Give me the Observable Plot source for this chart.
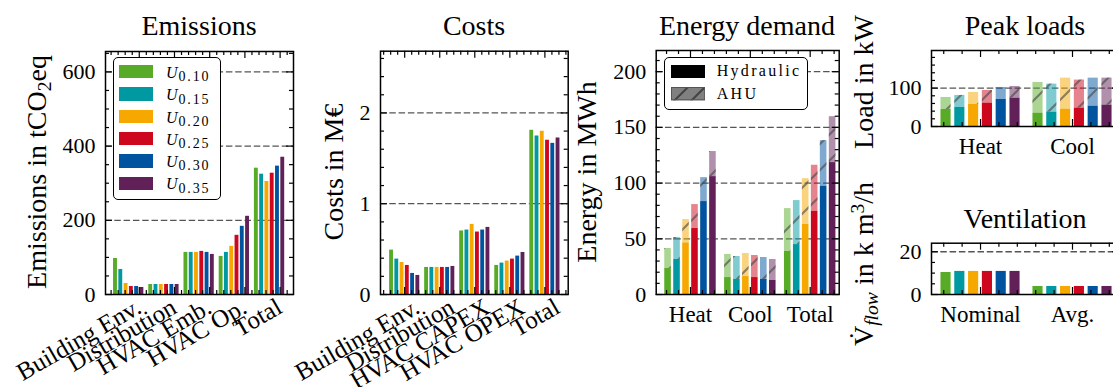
<!DOCTYPE html>
<html><head><meta charset="utf-8">
<script src="https://cdn.jsdelivr.net/npm/d3@7"></script>
<script src="https://cdn.jsdelivr.net/npm/@observablehq/plot@0.6"></script>
<style>
body{margin:0;background:#fff;}
#wrap{position:relative;width:1113px;height:387px;overflow:hidden;font-family:"Liberation Serif",serif;color:#000;background:#fff;}
.title{position:absolute;font-size:28px;line-height:28px;white-space:nowrap;transform:translateX(-50%);}
.ylab{position:absolute;font-size:28px;line-height:28px;white-space:nowrap;transform:translate(-50%,-50%) rotate(-90deg);}
.ylab sub{font-size:0.7em;vertical-align:-0.28em;line-height:0;}
.ylab sup{font-size:0.7em;vertical-align:0.45em;line-height:0;}
.lbox{position:absolute;box-sizing:border-box;border:1.5px solid #000;border-radius:5px;background:#fff;}
.ltext{position:absolute;white-space:nowrap;line-height:16px;}
</style></head><body>
<svg width="0" height="0" style="position:absolute"><defs>
<pattern id="hatch" patternUnits="userSpaceOnUse" width="26" height="26">
<path d="M0,26 L26,0 M-6,6 L6,-6 M20,32 L32,20" stroke="#444" stroke-opacity="0.6" stroke-width="2.2" fill="none"/>
</pattern>
<pattern id="hatchS" patternUnits="userSpaceOnUse" width="17" height="17">
<path d="M0,17 L17,0 M-4,4 L4,-4 M13,21 L21,13" stroke="#333" stroke-opacity="0.8" stroke-width="2" fill="none"/>
</pattern>
</defs></svg>
<div id="wrap"></div>
<script>
// ---------------- data ----------------
const series = ["0.10", "0.15", "0.20", "0.25", "0.30", "0.35"];
const colors = ["#57AB27", "#0098A1", "#F6A800", "#CC071E", "#00549F", "#612158"];

const emissionCats = ["Building Env.", "Distribution", "HVAC Emb.", "HVAC Op.", "Total"];
const emBuildingEnv = [97, 67.5, 29.7, 21.6, 21.6, 19];
const emDistribution = [27, 27, 27, 27, 27, 27];
const emHvacEmb = [113.5, 113.5, 113.5, 116.2, 113.5, 108];
const emHvacOp = [102.7, 113.5, 129.7, 159.5, 183.8, 210.8];
const emTotal = [340.5, 324.3, 304.6, 327, 346, 370];
const emTicks = [0, 200, 400, 600];

const costCats = ["Building Env.", "Distribution", "HVAC CAPEX", "HVAC OPEX", "Total"];
const costBuildingEnv = [0.489, 0.39, 0.353, 0.32, 0.232, 0.21];
const costDistribution = [0.298, 0.298, 0.298, 0.298, 0.298, 0.309];
const costCapex = [0.70, 0.71, 0.772, 0.688, 0.71, 0.739];
const costOpex = [0.32, 0.346, 0.368, 0.39, 0.423, 0.463];
const costTotal = [1.809, 1.746, 1.798, 1.699, 1.665, 1.724];
const costTicks = [0, 1, 2];

const energyCats = ["Heat", "Cool", "Total"];
const energyHeatHyd = [23.3, 31.4, 46.3, 59.2, 83.4, 105.8];
const energyHeatAhu = [18.0, 19.7, 21.0, 21.5, 21.5, 22.5];
const energyCoolHyd = [15.2, 13.5, 16.1, 15.2, 13.5, 12.6];
const energyCoolAhu = [20.7, 20.6, 20.7, 19.8, 19.7, 18.8];
const energyTotalHyd = [38.6, 44.8, 62.8, 74.7, 97.2, 118.4];
const energyTotalAhu = [38.5, 39.5, 41.2, 41.3, 40.9, 41.2];
const energyTicks = [0, 50, 100, 150, 200];

const peakCats = ["Heat", "Cool"];
const peakHeatHyd = [44.3, 49.6, 57.4, 60.9, 70.4, 73.9];
const peakHeatAhu = [31.4, 31.3, 31.3, 33.0, 31.3, 30.4];
const peakCoolHyd = [34.8, 37.4, 45.2, 47.8, 53.0, 55.7];
const peakCoolAhu = [80.0, 73.0, 80.8, 73.1, 73.0, 70.3];
const peakTicks = [0, 100];

const ventCats = ["Nominal", "Avg."];
const ventNominal = [10.3, 10.8, 10.8, 10.8, 10.8, 10.8];
const ventAvg = [3.75, 3.75, 3.75, 3.75, 3.75, 3.75];
const ventTicks = [0, 20];

// ---------------- helpers ----------------
const PITCH = 0.15, BW = 0.11;
const bx1 = d => d.g + (d.k - 2.5) * PITCH - BW / 2;
const bx2 = d => d.g + (d.k - 2.5) * PITCH + BW / 2;
const simpleRows = groups => groups.flatMap((vals, g) => vals.map((v, k) => ({g, k, v, c: colors[k]})));
const stackRows = groups => groups.flatMap(([hyd, ahu], g) => hyd.map((h, k) => ({g, k, hyd: h, top: h + ahu[k], c: colors[k]})));

const wrap = document.getElementById("wrap");

function panel(o) {
  const fw = o.width - o.ml - o.mr, fh = o.height - o.mt - o.mb;
  const yMinor = d3.range(0, o.yDomain[1], o.yMinorStep).filter(v => !o.yMajor.some(m => Math.abs(m - v) < 1e-9));
  const xStart = o.xMajor[0] - Math.floor((o.xMajor[0] - o.xDomain[0]) / 0.2 + 1e-9) * 0.2;
  const xMinor = d3.range(xStart, o.xDomain[1], 0.2).filter(v => !o.xMajor.some(m => Math.abs(m - v) < 1e-6));
  const tk = {stroke: "black", strokeWidth: 1.2};
  const svg = Plot.plot({
    width: o.width, height: o.height,
    marginLeft: o.ml, marginTop: o.mt, marginRight: o.mr, marginBottom: o.mb,
    x: {type: "linear", domain: o.xDomain, axis: null},
    y: {type: "linear", domain: o.yDomain, axis: null},
    color: {type: "identity"},
    style: "font-family:'Liberation Serif',serif;font-size:22px;background:transparent;overflow:visible;max-width:none;color:black;",
    marks: [
      Plot.ruleY(o.yMajor.filter(v => v > 0), {stroke: "#555", strokeDasharray: "6.5,2.8", strokeWidth: 1.3}),
      ...o.marks,
      Plot.tickY(o.yMajor, {...tk, insetRight: fw - 7}),
      Plot.tickY(o.yMajor, {...tk, insetLeft: fw - 7}),
      Plot.tickY(yMinor, {...tk, insetRight: fw - 4}),
      Plot.tickY(yMinor, {...tk, insetLeft: fw - 4}),
      Plot.tickX(o.xMajor, {...tk, insetBottom: fh - 7}),
      Plot.tickX(o.xMajor, {...tk, insetTop: fh - 7}),
      Plot.tickX(xMinor, {...tk, insetBottom: fh - 4}),
      Plot.tickX(xMinor, {...tk, insetTop: fh - 4}),
      Plot.text(o.yMajor, {y: d => d, text: d => String(d), frameAnchor: "left", dx: -10, textAnchor: "end", fontSize: 22}),
      Plot.frame({stroke: "black", strokeWidth: 1.5}),
      ...(o.labels || [])
    ]
  });
  svg.style.position = "absolute";
  svg.style.left = o.left + "px";
  svg.style.top = o.top + "px";
  wrap.appendChild(svg);
}

function simpleBars(rows) {
  return [Plot.rect(rows, {x1: bx1, x2: bx2, y1: 0, y2: "v", fill: "c"})];
}
function stackBars(rows) {
  return [
    Plot.rect(rows, {x1: bx1, x2: bx2, y1: 0, y2: "hyd", fill: "c"}),
    Plot.rect(rows, {x1: bx1, x2: bx2, y1: "hyd", y2: "top", fill: "c", fillOpacity: 0.5}),
    Plot.rect(rows, {x1: bx1, x2: bx2, y1: "hyd", y2: "top", fill: "url(#hatch)"})
  ];
}
function rotatedLabels(cats, off) {
  return [Plot.text(cats, {x: (d, i) => i + off, text: d => d, frameAnchor: "bottom", dy: 2, lineAnchor: "top", textAnchor: "end", rotate: -30, fontSize: 25})];
}
function flatLabels(cats, dy) {
  return [Plot.text(cats, {x: (d, i) => i, text: d => d, frameAnchor: "bottom", dy, lineAnchor: "top", textAnchor: "middle", fontSize: 23})];
}

// ---------------- panels ----------------
panel({left: 0, top: 0, width: 300, height: 387, ml: 105, mt: 51, mr: 7, mb: 93,
  xDomain: [-0.659, 4.68], yDomain: [0, 655], yMajor: emTicks, yMinorStep: 50,
  xMajor: emissionCats.map((d, i) => i + 0.3),
  marks: simpleBars(simpleRows([emBuildingEnv, emDistribution, emHvacEmb, emHvacOp, emTotal])),
  labels: rotatedLabels(emissionCats, 0.15)});

panel({left: 300, top: 0, width: 275, height: 387, ml: 80, mt: 50.7, mr: 7.3, mb: 93,
  xDomain: [-0.69, 4.665], yDomain: [0, 2.68], yMajor: costTicks, yMinorStep: 0.2,
  xMajor: costCats.map((d, i) => i),
  marks: simpleBars(simpleRows([costBuildingEnv, costDistribution, costCapex, costOpex, costTotal])),
  labels: rotatedLabels(costCats, 0.22)});

panel({left: 600, top: 0, width: 245, height: 387, ml: 55.7, mt: 50, mr: 6.3, mb: 93,
  xDomain: [-0.573, 2.485], yDomain: [0, 219], yMajor: energyTicks, yMinorStep: 10,
  xMajor: energyCats.map((d, i) => i),
  marks: stackBars(stackRows([[energyHeatHyd, energyHeatAhu], [energyCoolHyd, energyCoolAhu], [energyTotalHyd, energyTotalAhu]])),
  labels: flatLabels(energyCats, 11)});

panel({left: 900, top: 0, width: 230, height: 170, ml: 31, mt: 50, mr: 11, mb: 44,
  xDomain: [-0.533, 1.511], yDomain: [0, 198], yMajor: peakTicks, yMinorStep: 20,
  xMajor: peakCats.map((d, i) => i),
  marks: stackBars(stackRows([[peakHeatHyd, peakHeatAhu], [peakCoolHyd, peakCoolAhu]])),
  labels: flatLabels(peakCats, 11)});

panel({left: 900, top: 200, width: 230, height: 187, ml: 31, mt: 42.7, mr: 11, mb: 93,
  xDomain: [-0.533, 1.511], yDomain: [0, 24], yMajor: ventTicks, yMinorStep: 5,
  xMajor: ventCats.map((d, i) => i),
  marks: simpleBars(simpleRows([ventNominal, ventAvg])),
  labels: flatLabels(ventCats, 11)});

// ---------------- titles & axis labels ----------------
function addEl(cls, html, css) {
  const el = document.createElement("div");
  el.className = cls; el.innerHTML = html;
  Object.assign(el.style, css);
  wrap.appendChild(el);
  return el;
}
addEl("title", "Emissions", {left: "199px", top: "11.5px"});
addEl("title", "Costs", {left: "474px", top: "11.5px"});
addEl("title", "Energy demand", {left: "747px", top: "11.5px"});
addEl("title", "Peak loads", {left: "1025px", top: "11.5px"});
addEl("title", "Ventilation", {left: "1025px", top: "204.5px"});

addEl("ylab", "Emissions in tCO<sub>2</sub>eq", {left: "37px", top: "172px"});
addEl("ylab", "Costs in M€", {left: "334px", top: "172px"});
addEl("ylab", "Energy in MWh", {left: "587px", top: "172px"});
addEl("ylab", "Load in kW", {left: "864px", top: "82px"});
addEl("ylab", "V\u0307<sub><i>flow</i></sub> in k m<sup>3</sup>/h", {left: "864px", top: "264px"});

// ---------------- legends ----------------
addEl("lbox", "", {left: "112.7px", top: "57.3px", width: "108px", height: "142.7px"});
series.forEach((s, i) => {
  const cy = 71.7 + 22.3 * i;
  addEl("", "", {position: "absolute", left: "119.3px", top: (cy - 6.6) + "px", width: "34px", height: "13.3px", background: colors[i]});
  addEl("ltext", `<i style="font-size:16px">U</i><span style="font-size:14px;letter-spacing:1.8px;position:relative;top:3.4px;margin-left:1px">${s}</span>`,
    {left: "166px", top: (cy + 6.6 - 13.4) + "px"});
});

addEl("lbox", "", {left: "664px", top: "57.3px", width: "144.3px", height: "52.7px"});
addEl("", `<svg width="34.3" height="13.3" style="display:block"><rect width="34.3" height="13.3" fill="#000"/></svg>`,
  {position: "absolute", left: "671px", top: "65px"});
addEl("", `<svg width="34.3" height="13.3" style="display:block"><rect width="34.3" height="13.3" fill="#808080"/><rect width="34.3" height="13.3" fill="url(#hatchS)"/><rect x="0.5" y="0.5" width="33.3" height="12.3" fill="none" stroke="#555" stroke-width="1"/></svg>`,
  {position: "absolute", left: "671px", top: "87.3px"});
addEl("ltext", "Hydraulic", {left: "716.7px", top: (76.7 - 13.4) + "px", fontSize: "16px", letterSpacing: "2.3px"});
addEl("ltext", "AHU", {left: "716.7px", top: (99 - 13.4) + "px", fontSize: "16px", letterSpacing: "2.3px"});
</script>
</body></html>
